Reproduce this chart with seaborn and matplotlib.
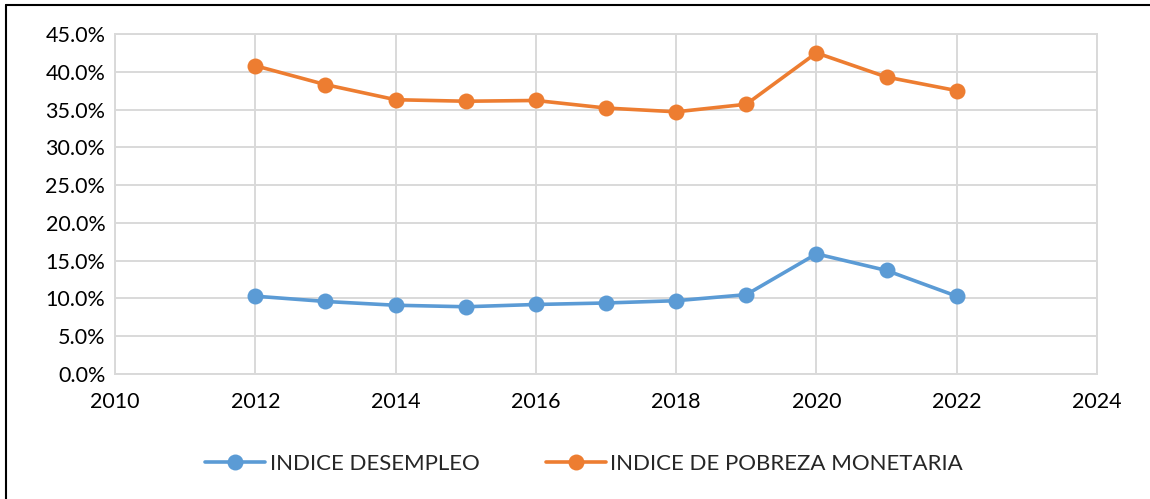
import matplotlib
matplotlib.use("Agg")
import matplotlib.pyplot as plt
from matplotlib.ticker import FuncFormatter, MultipleLocator
from matplotlib.lines import Line2D
import seaborn as sns
import pandas as pd

years = [2012, 2013, 2014, 2015, 2016, 2017, 2018, 2019, 2020, 2021, 2022]
desempleo = [10.3, 9.6, 9.1, 8.9, 9.2, 9.4, 9.7, 10.5, 15.9, 13.7, 10.3]
pobreza = [40.8, 38.3, 36.3, 36.1, 36.2, 35.2, 34.7, 35.7, 42.5, 39.3, 37.5]
series_names = ["INDICE DESEMPLEO", "INDICE DE POBREZA MONETARIA"]
colors = ["#5B9BD5", "#ED7D31"]

df = pd.DataFrame({
    "year": years * 2,
    "value": desempleo + pobreza,
    "series": [series_names[0]] * len(years) + [series_names[1]] * len(years),
})

sns.set_style("white")
plt.rcParams["font.family"] = ["Lato", "DejaVu Sans"]

fig = plt.figure(figsize=(11.5, 4.99), dpi=100)
ax = fig.add_axes([0.1, 0.2505, 0.8539, 0.6814])

sns.lineplot(data=df, x="year", y="value", hue="series", palette=colors,
             marker="o", markersize=11.5, markeredgewidth=0, linewidth=2.6,
             ax=ax, legend=False)

ax.set_xlim(2010, 2024)
ax.set_ylim(0, 45)
ax.xaxis.set_major_locator(MultipleLocator(2))
ax.yaxis.set_major_locator(MultipleLocator(5))
ax.yaxis.set_major_formatter(FuncFormatter(lambda v, p: f"{v:.1f}%"))
ax.grid(True, color="#d9d9d9", linewidth=1.4)
ax.set_axisbelow(True)
for s in ax.spines.values():
    s.set_color("#d9d9d9")
    s.set_linewidth(1.4)
ax.tick_params(axis="both", length=0, labelsize=15.5, colors="black")
ax.tick_params(axis="x", pad=13)
ax.tick_params(axis="y", pad=7)
ax.set_xlabel("")
ax.set_ylabel("")

handles = [Line2D([], [], color=c, marker="o", markersize=11.5, markeredgewidth=0,
                  linewidth=2.6) for c in colors]
fig.legend(handles, series_names, loc="center", bbox_to_anchor=(0.508, 0.07),
           ncol=2, frameon=False, fontsize=16, handlelength=2.7,
           columnspacing=3.0, handletextpad=0.2)

# outer frame (top and left visible)
fig.add_artist(Line2D([6 / 1150, 6 / 1150], [0, 1 - 5 / 499], color="black",
                      linewidth=1.5, transform=fig.transFigure))
fig.add_artist(Line2D([6 / 1150, 1], [1 - 5 / 499, 1 - 5 / 499], color="black",
                      linewidth=1.5, transform=fig.transFigure))

fig.savefig("out.png", dpi=100)
